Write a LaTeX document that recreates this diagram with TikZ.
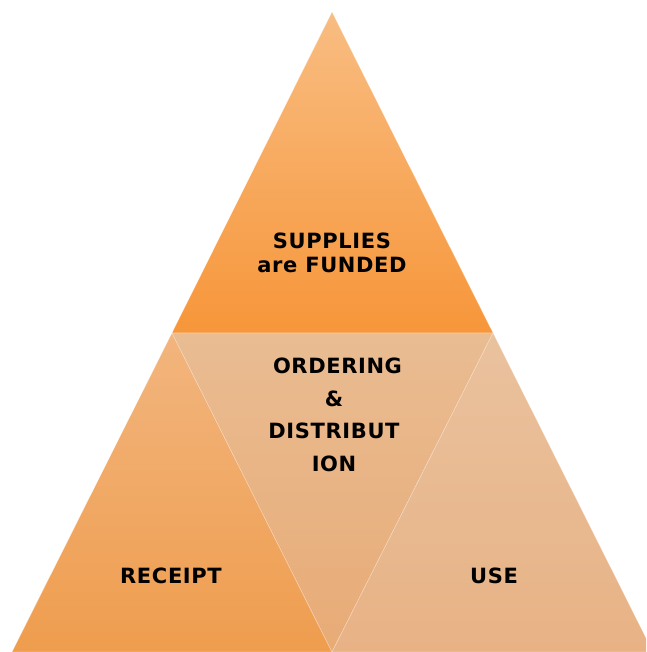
\documentclass[tikz,border=0pt]{standalone}
\usepackage{fontspec}
\setmainfont{DejaVu Sans}[LetterSpace=3.0]
\begin{document}
\begin{tikzpicture}[x=1pt,y=-1pt,
  label/.style={font=\bfseries\fontsize{21}{24}\selectfont, align=center, text=black, inner sep=0pt},
  midlabel/.style={label, font=\bfseries\fontsize{21}{32.7}\selectfont},
  facet/.style={draw=white, draw opacity=0.3, line width=0.6pt}]
  \useasboundingbox (0,0) rectangle (646,652);
  \clip (0,0) rectangle (646,652);

  % apex triangle
  \shade[facet, top color={rgb,255:red,248;green,189;blue,130}, bottom color={rgb,255:red,247;green,150;blue,58}]
    (332,12) -- (493,333) -- (172,333) -- cycle;
  % lower left triangle
  \shade[facet, top color={rgb,255:red,242;green,181;blue,126}, bottom color={rgb,255:red,239;green,157;blue,78}]
    (172,333) -- (332,652) -- (12,652) -- cycle;
  % inverted middle triangle
  \shade[facet, top color={rgb,255:red,233;green,188;blue,146}, bottom color={rgb,255:red,232;green,171;blue,118}]
    (172,333) -- (493,333) -- (332,652) -- cycle;
  % lower right triangle
  \shade[facet, top color={rgb,255:red,233;green,194;blue,158}, bottom color={rgb,255:red,232;green,178;blue,133}]
    (493,333) -- (653,652) -- (332,652) -- cycle;

  % labels
  \node[label] (top) at (332,253) {SUPPLIES\\[0pt]are FUNDED};
  \node[midlabel] (mid) at (334,415) {\hspace*{7pt}ORDERING\\\&\\DISTRIBUT\\ION};
  \node[label] (left) at (171,576) {RECEIPT};
  \node[label] (right) at (494,576) {USE};
\end{tikzpicture}
\end{document}
